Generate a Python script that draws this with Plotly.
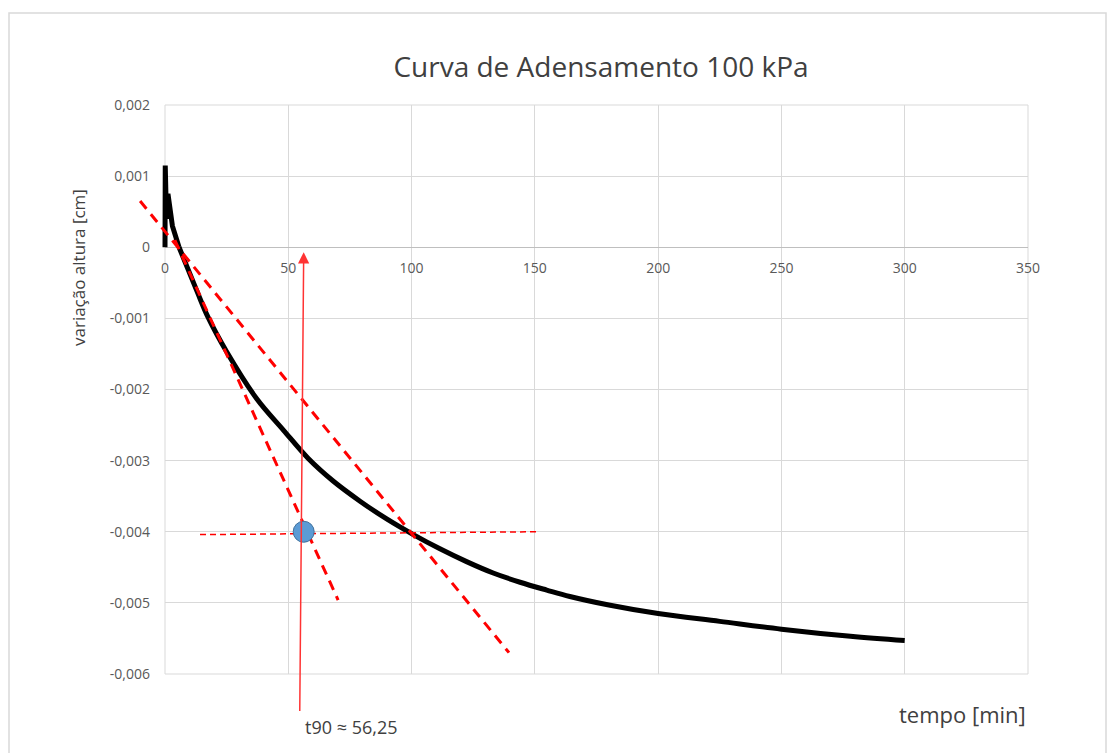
import plotly.graph_objects as go

# ---- data -------------------------------------------------------------
time_min = [0, 0.1, 0.6, 1.2, 3, 5.7, 13, 17.4, 25, 37.2, 48, 58.1, 68.3, 79.1,
            89.9, 100.7, 111.5, 122.3, 133.1, 144, 154.8, 164.2, 180, 200, 225,
            250, 278, 300]
height_cm = [0, 0.00115, 0.0004, 0.00075, 0.0003, 0, -0.00062, -0.00098, -0.00147,
             -0.00213, -0.00257, -0.00297, -0.00329, -0.00357, -0.00382, -0.00404,
             -0.00424, -0.00442, -0.00458, -0.00471, -0.00482, -0.00491, -0.00503,
             -0.00515, -0.00526, -0.00537, -0.00547, -0.00553]
SPIKE_END = 5          # index where the initial jump ends and the decay begins

tangent_a_x = [4, 70.2]
tangent_a_y = [0.0001, -0.00496]
tangent_b_x = [-10.1, 139.5]
tangent_b_y = [0.00065, -0.0057]
level_x = [14.2, 150.9]
level_y = [-0.00404, -0.0040]

t90 = 56.25
y90 = -0.004

x_ticks = [0, 50, 100, 150, 200, 250, 300, 350]
x_tick_text = ["0", "50", "100", "150", "200", "250", "300", "350"]
y_ticks = [0.002, 0.001, 0, -0.001, -0.002, -0.003, -0.004, -0.005, -0.006]
y_tick_text = ["0,002", "0,001", "0", "-0,001", "-0,002", "-0,003", "-0,004",
               "-0,005", "-0,006"]

# ---- layout geometry ----------------------------------------------------
W, H = 1107, 753
M_L, M_R, M_T, M_B = 130, 79, 105, 79
AXIS_LEFT = 165                      # pixel where the time axis begins
X_RANGE = [0, 350]
Y_RANGE = [-0.006, 0.002]

plot_w = W - M_L - M_R
plot_h = H - M_T - M_B
dom0 = (AXIS_LEFT - M_L) / plot_w
# drawing axis spans the whole plot width with the same scale as the time axis
x2_min = X_RANGE[1] - (X_RANGE[1] - X_RANGE[0]) / (1 - dom0)
zero_pos = (0 - Y_RANGE[0]) / (Y_RANGE[1] - Y_RANGE[0])


def paper_x(px):
    return (px - M_L) / plot_w


def paper_y(py):
    return (H - M_B - py) / plot_h


FONT = "Open Sans"
RED = "#FF0000"
GRID = "#D9D9D9"

fig = go.Figure()

# empty trace so the gridded time / height axes are built
fig.add_trace(go.Scatter(x=[], y=[], xaxis="x", yaxis="y", hoverinfo="skip"))

# initial jump (straight segments) and consolidation decay (smoothed)
fig.add_trace(go.Scatter(
    x=time_min[:SPIKE_END + 1], y=height_cm[:SPIKE_END + 1], mode="lines",
    line=dict(color="black", width=5),
    xaxis="x2", yaxis="y2", hoverinfo="skip"))
fig.add_trace(go.Scatter(
    x=time_min[SPIKE_END:], y=height_cm[SPIKE_END:], mode="lines",
    line=dict(color="black", width=5, shape="spline", smoothing=1.0),
    xaxis="x2", yaxis="y2", hoverinfo="skip"))

for xs, ys in ((tangent_a_x, tangent_a_y), (tangent_b_x, tangent_b_y)):
    fig.add_trace(go.Scatter(
        x=xs, y=ys, mode="lines",
        line=dict(color=RED, width=3, dash="10px,7px"),
        xaxis="x2", yaxis="y2", hoverinfo="skip"))

fig.add_trace(go.Scatter(
    x=level_x, y=level_y, mode="lines",
    line=dict(color=RED, width=1.5, dash="6px,4px"),
    xaxis="x2", yaxis="y2", hoverinfo="skip"))

fig.add_trace(go.Scatter(
    x=[t90], y=[y90], mode="markers",
    marker=dict(size=21, color="#5B9BD5", line=dict(color="#41719C", width=1)),
    xaxis="x2", yaxis="y2", hoverinfo="skip"))

tick_font = dict(family=FONT, size=14, color="#595959")

fig.update_layout(
    width=W, height=H,
    margin=dict(l=M_L, r=M_R, t=M_T, b=M_B),
    paper_bgcolor="white", plot_bgcolor="rgba(0,0,0,0)",
    showlegend=False,
    title=dict(text="Curva de Adensamento 100 kPa",
               x=601 / W, xref="container", xanchor="center",
               y=1 - 67 / H, yref="container", yanchor="middle",
               font=dict(family=FONT, size=28, color="#404040")),
    xaxis=dict(domain=[dom0, 1], range=X_RANGE, anchor="free", position=zero_pos,
               tickmode="array", tickvals=x_ticks, ticktext=x_tick_text,
               showgrid=True, gridcolor=GRID, gridwidth=1, zeroline=False,
               showline=True, linecolor="#BFBFBF", linewidth=1,
               ticks="", ticklabelstandoff=8, tickfont=tick_font, fixedrange=True),
    yaxis=dict(domain=[0, 1], range=Y_RANGE, anchor="x",
               tickmode="array", tickvals=y_ticks, ticktext=y_tick_text,
               showgrid=True, gridcolor=GRID, gridwidth=1, zeroline=False,
               showline=False, ticks="", ticklabelstandoff=14, tickfont=tick_font,
               fixedrange=True),
    xaxis2=dict(domain=[0, 1], range=[x2_min, X_RANGE[1]], anchor="y2",
                visible=False, fixedrange=True),
    yaxis2=dict(domain=[0, 1], range=Y_RANGE, anchor="x2",
                visible=False, fixedrange=True),
)

# outer chart frame
fig.add_shape(type="rect", xref="paper", yref="paper",
              x0=paper_x(9), x1=paper_x(1106), y0=paper_y(770), y1=paper_y(13),
              line=dict(color=GRID, width=1.5), fillcolor="rgba(0,0,0,0)",
              layer="below")

# edge grid lines of the plot area
fig.add_shape(type="rect", xref="x domain", yref="y domain",
              x0=0, x1=1, y0=0, y1=1,
              line=dict(color=GRID, width=1), fillcolor="rgba(0,0,0,0)",
              layer="below")

# arrow pointing to t90
fig.add_annotation(
    x=t90, y=-0.00007, xref="x2", yref="y2",
    ax=t90 - 1.6, ay=-0.00654, axref="x2", ayref="y2",
    text="", showarrow=True, arrowhead=2, arrowsize=1.5, arrowwidth=1.5,
    arrowcolor="#FF3333")

fig.add_annotation(
    x=t90, y=paper_y(727), xref="x2", yref="paper",
    text=f"t90 ≈ {str(t90).replace('.', ',')}", showarrow=False,
    xanchor="left", yanchor="middle", xshift=-1,
    font=dict(family=FONT, size=18, color="#404040"))

# axis titles
fig.add_annotation(
    x=paper_x(78), y=paper_y(268), xref="paper", yref="paper",
    text="variação altura [cm]", textangle=-90, showarrow=False,
    xanchor="center", yanchor="middle",
    font=dict(family=FONT, size=17, color="#404040"))

fig.add_annotation(
    x=1, y=paper_y(714), xref="paper", yref="paper",
    text="tempo [min]", showarrow=False,
    xanchor="right", yanchor="middle",
    font=dict(family=FONT, size=22, color="#404040"))

fig.write_html("out.html")
